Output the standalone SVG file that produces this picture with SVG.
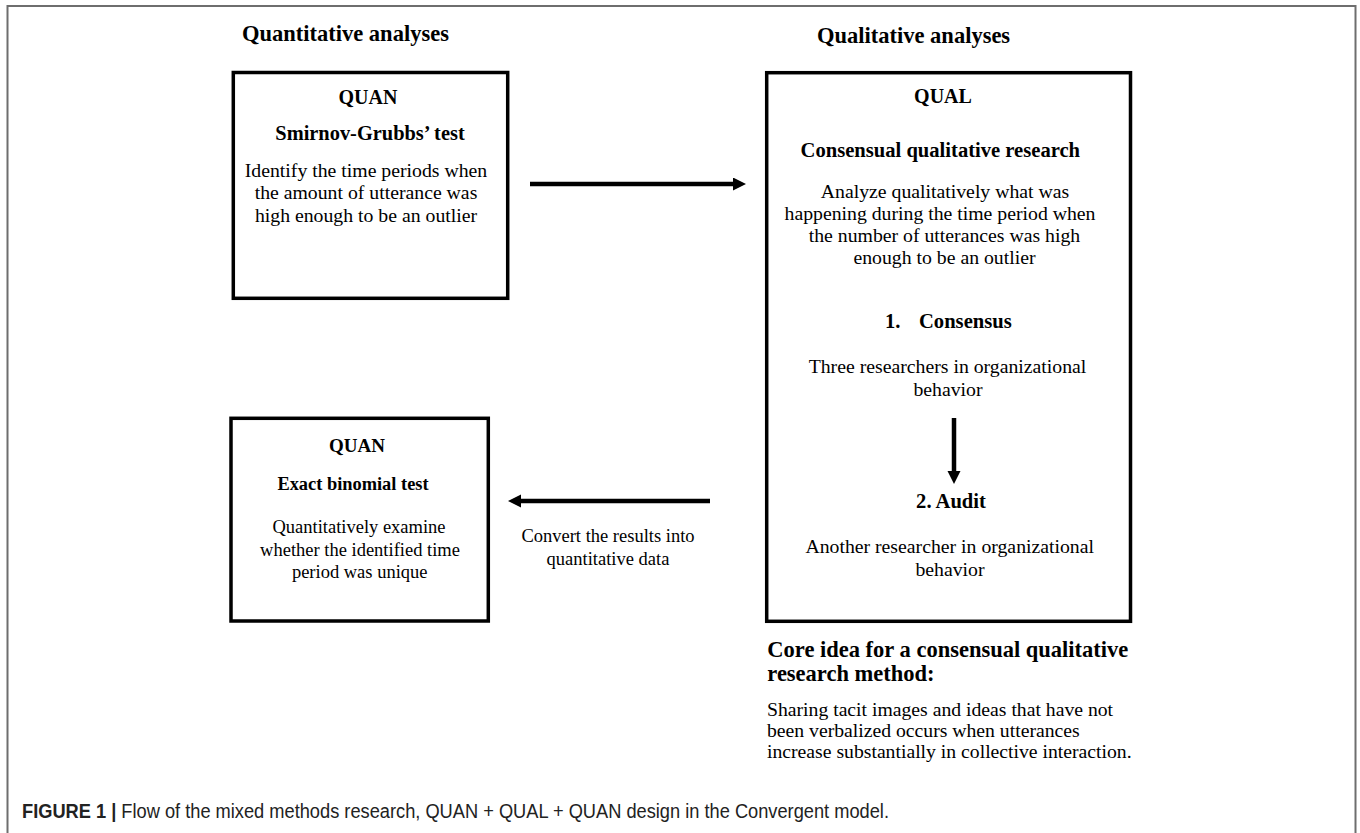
<svg xmlns="http://www.w3.org/2000/svg" width="1360" height="833" viewBox="0 0 1360 833">
<style>
.box{fill:none;stroke:#000;stroke-width:3.5}
.frame{fill:#fff;stroke:#6e6e6e;stroke-width:2}
.t{font-family:"Liberation Serif","Times New Roman",serif;fill:#000}
.b{font-weight:bold}
.c{text-anchor:middle}
.conn{stroke:#000;stroke-width:4.5;fill:none}
.cap{font-family:"Liberation Sans",Arial,sans-serif;font-size:19.5px;fill:#222}
</style>
<defs>
<marker id="ah" markerUnits="userSpaceOnUse" markerWidth="14" markerHeight="14" refX="1" refY="6.5" orient="auto">
<path d="M0,0 L13,6.5 L0,13 Z" fill="#000"/>
</marker>
</defs>
<rect class="frame" x="7.5" y="6" width="1348" height="840"/>

<text class="t b" x="242" y="40.7" font-size="22.5">Quantitative analyses</text>
<text class="t b" x="817" y="43" font-size="22.5">Qualitative analyses</text>

<g id="node-quan1">
<rect class="box" x="233.3" y="72.5" width="274.4" height="225.8"/>
<text class="t b c" x="368" y="103.5" font-size="20">QUAN</text>
<text class="t b c" x="370" y="140" font-size="20.4">Smirnov-Grubbs’ test</text>
<text class="t c" x="366" y="176.7" font-size="19.75">Identify the time periods when</text>
<text class="t c" x="366" y="199" font-size="19.75">the amount of utterance was</text>
<text class="t c" x="366" y="222.3" font-size="19.75">high enough to be an outlier</text>
</g>

<g id="node-qual">
<rect class="box" x="766.7" y="72.7" width="363.8" height="548.6"/>
<text class="t b c" x="943" y="103.3" font-size="20">QUAL</text>
<text class="t b c" x="940.3" y="156.7" font-size="20.6">Consensual qualitative research</text>
<text class="t c" x="945" y="197.5" font-size="19.75">Analyze qualitatively what was</text>
<text class="t c" x="940" y="219.7" font-size="19.75">happening during the time period when</text>
<text class="t c" x="944.5" y="241.9" font-size="19.75">the number of utterances was high</text>
<text class="t c" x="944.5" y="264.1" font-size="19.75">enough to be an outlier</text>
<text class="t b" y="328.3" font-size="20.6"><tspan x="885">1.</tspan><tspan x="919">Consensus</tspan></text>
<text class="t c" x="947.5" y="373.3" font-size="19.75">Three researchers in organizational</text>
<text class="t c" x="948" y="396" font-size="19.75">behavior</text>
<text class="t b c" x="951" y="507.7" font-size="20.6">2. Audit</text>
<text class="t c" x="949.7" y="553.3" font-size="19.75">Another researcher in organizational</text>
<text class="t c" x="950" y="576" font-size="19.75">behavior</text>
</g>

<g id="node-quan2">
<rect class="box" x="231" y="418.3" width="257.3" height="202.7"/>
<text class="t b c" x="357" y="451.7" font-size="19">QUAN</text>
<text class="t b c" x="353" y="490" font-size="18.4">Exact binomial test</text>
<text class="t c" x="359" y="533.3" font-size="18.5">Quantitatively examine</text>
<text class="t c" x="360" y="556" font-size="18.5">whether the identified time</text>
<text class="t c" x="359.7" y="578.3" font-size="18.5">period was unique</text>
</g>

<g id="note-core">
<text class="t b" x="767.3" y="657.3" font-size="22.5">Core idea for a consensual qualitative</text>
<text class="t b" x="767.3" y="680.7" font-size="22.5">research method:</text>
<text class="t" x="767" y="715.8" font-size="19.7">Sharing tacit images and ideas that have not</text>
<text class="t" x="767" y="736.8" font-size="19.7">been verbalized occurs when utterances</text>
<text class="t" x="767" y="757.8" font-size="19.7">increase substantially in collective interaction.</text>
</g>

<g id="connectors">
<line class="conn" x1="530" y1="184" x2="734" y2="184" marker-end="url(#ah)"/>
<line class="conn" x1="710" y1="501" x2="520" y2="501" marker-end="url(#ah)"/>
<line class="conn" x1="954" y1="418" x2="954" y2="472" marker-end="url(#ah)"/>
<text class="t c" x="608" y="541.7" font-size="18.5">Convert the results into</text>
<text class="t c" x="608" y="565" font-size="18.5">quantitative data</text>
</g>

<text class="cap" x="22" y="818" textLength="867" lengthAdjust="spacingAndGlyphs"><tspan font-weight="bold">FIGURE 1 | </tspan>Flow of the mixed methods research, QUAN + QUAL + QUAN design in the Convergent model.</text>
</svg>
